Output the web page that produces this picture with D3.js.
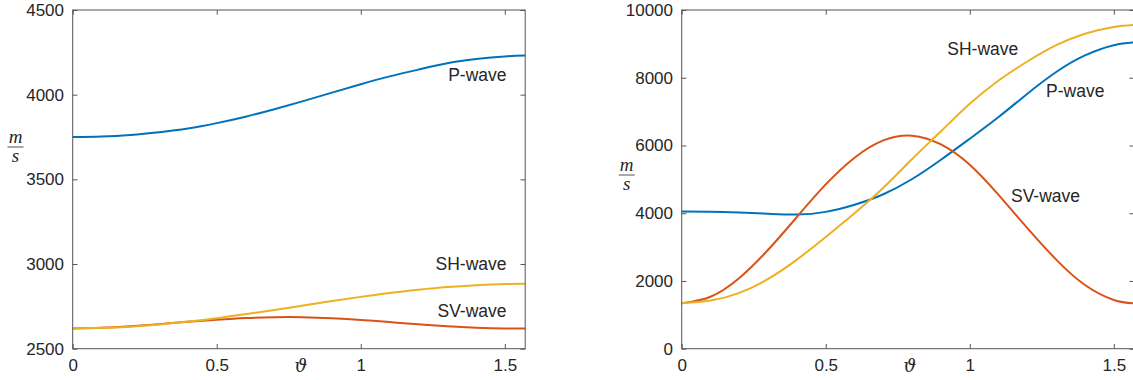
<!DOCTYPE html>
<html>
<head>
<meta charset="utf-8">
<script src="https://cdn.jsdelivr.net/npm/d3@7"></script>
<style>
  body { margin: 0; background: #fff; }
  svg text { font-family: "Liberation Sans", Arial, Helvetica, sans-serif; fill: #262626; }
</style>
</head>
<body>
<svg id="chart" width="1133" height="380"></svg>
<script>
"use strict";

// angle samples (rad), last one is pi/2
var theta = [0, 0.1, 0.2, 0.3, 0.4, 0.5, 0.6, 0.7, 0.8, 0.9, 1.0, 1.1, 1.2, 1.3, 1.4, 1.5, Math.PI / 2];

// left panel
var leftP  = [3750, 3753, 3762, 3778, 3800, 3832, 3870, 3914, 3962, 4012, 4062, 4108, 4148, 4185, 4210, 4226, 4231];
var leftSV = [2620, 2623, 2632, 2645, 2659, 2671, 2681, 2686, 2686, 2680, 2670, 2657, 2644, 2632, 2624, 2620, 2620];
var leftSH = [2620, 2623, 2630, 2643, 2660, 2680, 2704, 2729, 2755, 2781, 2806, 2829, 2848, 2864, 2875, 2882, 2883];

// right panel
var rightP  = [4050, 4045, 4020, 3985, 3960, 4040, 4250, 4560, 5010, 5580, 6200, 6840, 7530, 8170, 8660, 8960, 9040];
var rightSV = [1340, 1535, 2090, 2920, 3890, 4850, 5640, 6150, 6290, 6030, 5430, 4540, 3560, 2630, 1880, 1440, 1340];
var rightSH = [1340, 1420, 1650, 2060, 2630, 3300, 4000, 4750, 5600, 6420, 7230, 7920, 8480, 8960, 9300, 9500, 9560];

var xTicks = [0, 0.5, 1, 1.5];
var leftYTicks = [2500, 3000, 3500, 4000, 4500];
var rightYTicks = [0, 2000, 4000, 6000, 8000, 10000];

var colors = { P: "#0072BD", SV: "#D95319", SH: "#EDB120" };

var svg = d3.select("#chart");

function drawPanel(o) {
    var x = d3.scaleLinear().domain([0, Math.PI / 2]).range([o.left, o.left + 452.5]);
    var y = d3.scaleLinear().domain(o.yDomain).range([348.7, 10]);
    var g = svg.append("g");

    // lines (MATLAB order: P, SV, SH)
    var line = d3.line()
        .x(function (d, i) { return x(theta[i]); })
        .y(function (d) { return y(d); })
        .curve(d3.curveNatural);

    [["P", o.P], ["SV", o.SV], ["SH", o.SH]].forEach(function (s) {
        g.append("path")
            .datum(s[1])
            .attr("fill", "none")
            .attr("stroke", colors[s[0]])
            .attr("stroke-width", 2)
            .attr("d", line);
    });

    // box
    g.append("rect")
        .attr("x", x.range()[0]).attr("y", y.range()[1])
        .attr("width", x.range()[1] - x.range()[0])
        .attr("height", y.range()[0] - y.range()[1])
        .attr("fill", "none")
        .attr("stroke", "#555")
        .attr("stroke-width", 1);

    var tick = 4.7;
    var ax = g.append("g").attr("transform", "translate(0," + y.range()[0] + ")")
        .call(d3.axisBottom(x).tickValues(xTicks).tickSize(-tick).tickPadding(6)
            .tickFormat(function (d) { return String(d); }));
    var ay = g.append("g").attr("transform", "translate(" + x.range()[0] + ",0)")
        .call(d3.axisLeft(y).tickValues(o.yTicks).tickSize(-tick).tickPadding(8.7)
            .tickFormat(function (d) { return String(d); }));
    var at = g.append("g").attr("transform", "translate(0," + y.range()[1] + ")")
        .call(d3.axisTop(x).tickValues(xTicks).tickSize(-tick).tickFormat(""));
    var ar = g.append("g").attr("transform", "translate(" + x.range()[1] + ",0)")
        .call(d3.axisRight(y).tickValues(o.yTicks).tickSize(-tick).tickFormat(""));

    [ax, ay, at, ar].forEach(function (a) {
        a.select(".domain").remove();
        a.selectAll(".tick line").attr("stroke", "#555");
        a.selectAll(".tick text")
            .attr("fill", "#262626")
            .style("font-size", "17px")
            .style("font-family", "'Liberation Sans', Arial, sans-serif");
    });
    ax.selectAll(".tick text").attr("dy", "0.95em");

    // curve labels
    o.labels.forEach(function (l) {
        g.append("text")
            .attr("x", x(l.t)).attr("y", y(l.v))
            .attr("dy", "0.35em")
            .attr("text-anchor", l.anchor)
            .style("font-size", "17.5px")
            .text(l.text);
    });

    // x label (theta)
    g.append("text")
        .attr("x", (x.range()[0] + x.range()[1]) / 2 + 2)
        .attr("y", 372)
        .attr("text-anchor", "middle")
        .style("font-family", "'DejaVu Serif', 'Liberation Serif', serif")
        .style("font-style", "italic")
        .style("font-size", "18px")
        .attr("fill", "#262626")
        .text("\u03D1");

    // y label m/s as a fraction
    var f = g.append("g").attr("transform", "translate(" + o.fracX + "," + o.fracY + ")");
    f.append("text").attr("x", 0).attr("y", o.mDy).attr("text-anchor", "middle")
        .style("font-family", "'Liberation Serif', 'DejaVu Serif', serif")
        .style("font-style", "italic").style("font-size", "19px")
        .attr("fill", "#262626").text("m");
    f.append("line").attr("x1", -8).attr("x2", 8).attr("y1", 0).attr("y2", 0)
        .attr("stroke", "#262626").attr("stroke-width", 0.8);
    f.append("text").attr("x", 0).attr("y", o.sDy).attr("text-anchor", "middle")
        .style("font-family", "'Liberation Serif', 'DejaVu Serif', serif")
        .style("font-style", "italic").style("font-size", "19px")
        .attr("fill", "#262626").text("s");
}

drawPanel({
    left: 72.7,
    yDomain: [2500, 4500],
    yTicks: leftYTicks,
    P: leftP, SV: leftSV, SH: leftSH,
    fracX: 15.5, fracY: 147, mDy: -4, sDy: 15,
    labels: [
        { text: "P-wave", t: 1.506, v: 4116, anchor: "end" },
        { text: "SH-wave", t: 1.506, v: 3001, anchor: "end" },
        { text: "SV-wave", t: 1.506, v: 2723, anchor: "end" }
    ]
});

drawPanel({
    left: 681.7,
    yDomain: [0, 10000],
    yTicks: rightYTicks,
    P: rightP, SV: rightSV, SH: rightSH,
    fracX: 626.7, fracY: 175, mDy: -4, sDy: 15,
    labels: [
        { text: "SH-wave", t: 0.922, v: 8863, anchor: "start" },
        { text: "P-wave", t: 1.265, v: 7608, anchor: "start" },
        { text: "SV-wave", t: 1.143, v: 4508, anchor: "start" }
    ]
});
</script>
</body>
</html>
